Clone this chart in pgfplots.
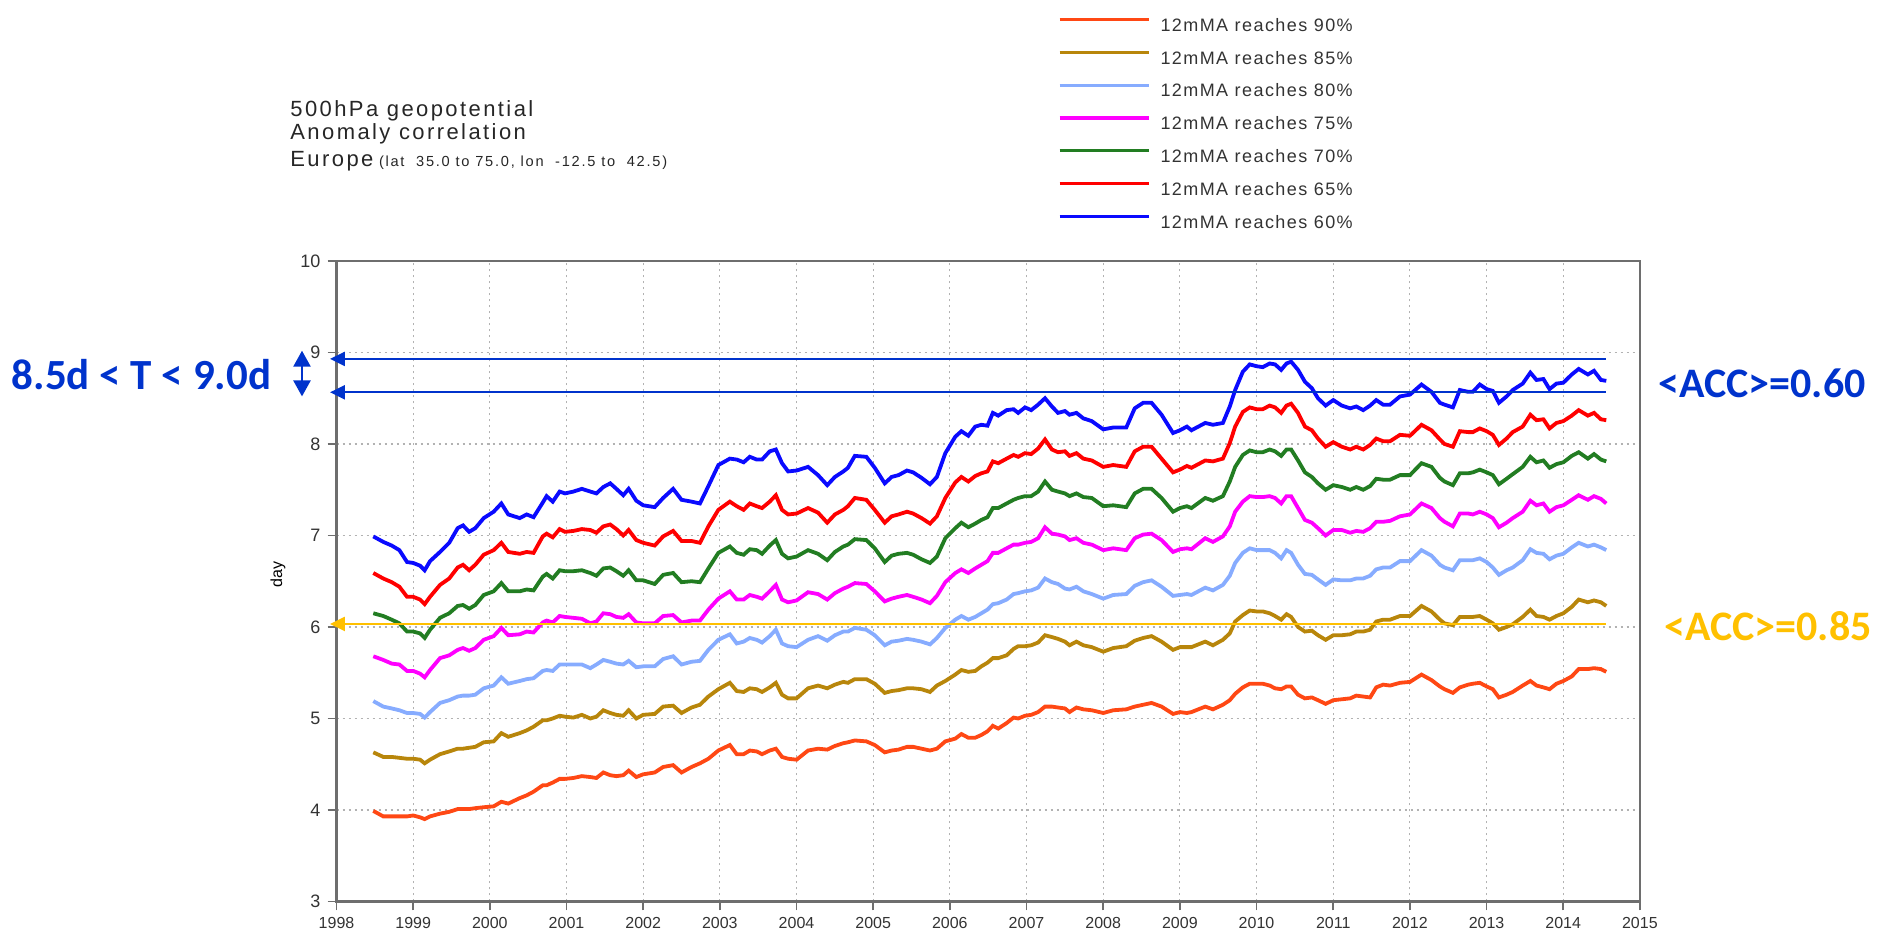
\documentclass[border=0pt]{standalone}
\usepackage{pgfplots}
\pgfplotsset{compat=1.18}
\usepackage{pgfplotstable}
\usepackage{fontspec}
\setmainfont{Liberation Sans}
\newfontfamily\calibri{Carlito}
\usetikzlibrary{arrows.meta}

\definecolor{c90}{RGB}{255,72,20}
\definecolor{c85}{RGB}{184,134,11}
\definecolor{c80}{RGB}{135,172,255}
\definecolor{c75}{RGB}{255,0,255}
\definecolor{c70}{RGB}{34,125,34}
\definecolor{c65}{RGB}{255,0,0}
\definecolor{c60}{RGB}{10,10,255}
\definecolor{annblue}{RGB}{0,51,204}
\definecolor{annorange}{RGB}{255,192,0}
\definecolor{axisgray}{RGB}{110,110,110}

\pgfplotstableread{
year a90 a85 a80 a75 a70 a65 a60
1998.48 3.99 4.63 5.19 5.68 6.15 6.59 6.99
1998.61 3.93 4.58 5.13 5.64 6.12 6.53 6.93
1998.72 3.93 4.58 5.11 5.60 6.08 6.49 6.89
1998.82 3.93 4.57 5.09 5.59 6.04 6.44 6.84
1998.92 3.93 4.56 5.06 5.52 5.95 6.33 6.71
1999.00 3.94 4.56 5.06 5.52 5.95 6.33 6.70
1999.09 3.92 4.55 5.05 5.49 5.93 6.30 6.67
1999.15 3.90 4.51 5.01 5.45 5.88 6.25 6.62
1999.22 3.93 4.55 5.07 5.53 5.97 6.33 6.72
1999.35 3.96 4.61 5.17 5.66 6.10 6.46 6.82
1999.47 3.98 4.64 5.20 5.69 6.15 6.53 6.92
1999.58 4.01 4.67 5.24 5.75 6.23 6.65 7.08
1999.65 4.01 4.67 5.25 5.77 6.24 6.68 7.11
1999.73 4.01 4.68 5.25 5.74 6.20 6.62 7.04
1999.81 4.02 4.69 5.26 5.77 6.24 6.68 7.08
1999.92 4.03 4.74 5.33 5.86 6.35 6.79 7.19
2000.05 4.04 4.75 5.36 5.90 6.39 6.84 7.26
2000.15 4.09 4.84 5.45 5.99 6.48 6.92 7.35
2000.24 4.07 4.80 5.38 5.91 6.39 6.82 7.23
2000.39 4.13 4.84 5.41 5.92 6.39 6.80 7.19
2000.48 4.16 4.87 5.43 5.95 6.41 6.82 7.23
2000.57 4.20 4.91 5.44 5.94 6.40 6.81 7.20
2000.69 4.27 4.98 5.52 6.05 6.55 6.99 7.36
2000.74 4.27 4.98 5.53 6.07 6.58 7.02 7.43
2000.82 4.30 5.00 5.52 6.05 6.53 6.98 7.37
2000.91 4.34 5.03 5.59 6.12 6.62 7.07 7.48
2000.98 4.34 5.02 5.59 6.11 6.61 7.04 7.46
2001.09 4.35 5.01 5.59 6.10 6.61 7.05 7.48
2001.20 4.37 5.04 5.59 6.09 6.62 7.07 7.51
2001.31 4.36 5.00 5.55 6.04 6.59 7.06 7.48
2001.39 4.35 5.02 5.59 6.06 6.56 7.03 7.46
2001.48 4.41 5.09 5.64 6.15 6.64 7.10 7.53
2001.57 4.38 5.06 5.62 6.14 6.65 7.12 7.57
2001.65 4.37 5.04 5.60 6.11 6.61 7.07 7.51
2001.74 4.38 5.03 5.59 6.10 6.56 7.00 7.44
2001.81 4.43 5.09 5.63 6.14 6.62 7.06 7.51
2001.91 4.36 5.00 5.56 6.05 6.51 6.95 7.38
2002.00 4.39 5.04 5.57 6.04 6.51 6.92 7.33
2002.15 4.41 5.05 5.57 6.04 6.47 6.89 7.31
2002.26 4.47 5.13 5.65 6.12 6.57 6.99 7.41
2002.39 4.49 5.14 5.68 6.13 6.59 7.05 7.51
2002.50 4.41 5.06 5.59 6.05 6.49 6.94 7.39
2002.63 4.47 5.12 5.62 6.07 6.50 6.94 7.37
2002.74 4.51 5.15 5.63 6.07 6.49 6.92 7.35
2002.85 4.56 5.24 5.75 6.19 6.64 7.10 7.54
2002.98 4.65 5.32 5.86 6.31 6.81 7.28 7.77
2003.13 4.71 5.39 5.92 6.39 6.88 7.37 7.84
2003.22 4.61 5.30 5.82 6.30 6.81 7.32 7.83
2003.31 4.61 5.29 5.84 6.30 6.79 7.28 7.80
2003.39 4.65 5.33 5.88 6.35 6.85 7.35 7.86
2003.48 4.64 5.32 5.86 6.33 6.84 7.32 7.83
2003.55 4.61 5.29 5.83 6.31 6.80 7.30 7.83
2003.65 4.65 5.34 5.90 6.39 6.89 7.37 7.92
2003.73 4.67 5.39 5.97 6.46 6.95 7.44 7.94
2003.81 4.58 5.26 5.82 6.30 6.80 7.28 7.79
2003.89 4.56 5.22 5.79 6.27 6.75 7.23 7.70
2004.00 4.55 5.22 5.78 6.29 6.77 7.24 7.71
2004.15 4.65 5.33 5.86 6.38 6.84 7.30 7.75
2004.28 4.67 5.36 5.90 6.36 6.80 7.25 7.66
2004.40 4.66 5.33 5.85 6.30 6.73 7.14 7.55
2004.50 4.70 5.37 5.91 6.37 6.82 7.23 7.64
2004.61 4.73 5.40 5.95 6.42 6.88 7.28 7.70
2004.67 4.74 5.39 5.95 6.44 6.90 7.32 7.74
2004.76 4.76 5.43 5.99 6.48 6.96 7.41 7.87
2004.91 4.75 5.43 5.97 6.47 6.95 7.39 7.86
2005.02 4.71 5.38 5.91 6.39 6.86 7.28 7.74
2005.15 4.63 5.28 5.80 6.28 6.71 7.14 7.57
2005.24 4.65 5.30 5.84 6.31 6.78 7.21 7.64
2005.33 4.66 5.31 5.85 6.33 6.80 7.23 7.66
2005.44 4.69 5.33 5.87 6.35 6.81 7.26 7.71
2005.52 4.69 5.33 5.86 6.33 6.79 7.24 7.69
2005.63 4.67 5.32 5.84 6.30 6.74 7.19 7.63
2005.74 4.65 5.29 5.81 6.26 6.70 7.13 7.56
2005.83 4.67 5.36 5.88 6.34 6.77 7.21 7.64
2005.94 4.75 5.41 5.99 6.49 6.97 7.41 7.90
2006.07 4.78 5.48 6.08 6.59 7.08 7.58 8.08
2006.15 4.83 5.53 6.12 6.63 7.14 7.64 8.14
2006.24 4.79 5.51 6.08 6.59 7.09 7.59 8.09
2006.33 4.79 5.52 6.11 6.64 7.13 7.65 8.19
2006.41 4.82 5.57 6.15 6.68 7.17 7.68 8.21
2006.49 4.86 5.61 6.19 6.72 7.20 7.70 8.20
2006.56 4.92 5.66 6.25 6.81 7.30 7.81 8.34
2006.63 4.89 5.66 6.26 6.81 7.30 7.79 8.31
2006.74 4.95 5.69 6.30 6.86 7.35 7.84 8.37
2006.83 5.01 5.76 6.36 6.90 7.39 7.88 8.38
2006.89 5.00 5.79 6.37 6.90 7.41 7.86 8.34
2006.98 5.03 5.79 6.39 6.92 7.43 7.90 8.40
2007.06 5.04 5.80 6.40 6.93 7.43 7.89 8.37
2007.15 5.07 5.83 6.43 6.97 7.48 7.95 8.43
2007.24 5.13 5.91 6.53 7.09 7.59 8.05 8.50
2007.33 5.13 5.89 6.49 7.02 7.50 7.94 8.41
2007.41 5.12 5.87 6.47 7.01 7.48 7.91 8.34
2007.50 5.11 5.84 6.42 6.99 7.46 7.92 8.36
2007.56 5.07 5.80 6.41 6.95 7.43 7.87 8.32
2007.65 5.12 5.84 6.44 6.97 7.46 7.90 8.34
2007.74 5.10 5.80 6.39 6.92 7.42 7.84 8.28
2007.85 5.09 5.78 6.36 6.90 7.41 7.82 8.25
2008.00 5.06 5.73 6.31 6.84 7.32 7.75 8.16
2008.13 5.09 5.77 6.35 6.86 7.33 7.77 8.18
2008.30 5.10 5.79 6.36 6.84 7.31 7.75 8.18
2008.41 5.13 5.85 6.45 6.97 7.46 7.92 8.39
2008.52 5.15 5.88 6.49 7.01 7.51 7.97 8.45
2008.63 5.17 5.90 6.51 7.02 7.51 7.97 8.45
2008.76 5.13 5.84 6.44 6.95 7.41 7.84 8.32
2008.91 5.05 5.75 6.34 6.82 7.26 7.69 8.12
2009.00 5.07 5.78 6.35 6.85 7.30 7.72 8.15
2009.09 5.06 5.78 6.36 6.86 7.32 7.76 8.19
2009.15 5.07 5.78 6.35 6.85 7.30 7.74 8.15
2009.33 5.13 5.84 6.43 6.97 7.41 7.82 8.23
2009.43 5.10 5.80 6.40 6.93 7.38 7.81 8.21
2009.56 5.15 5.86 6.46 6.99 7.43 7.84 8.23
2009.65 5.20 5.93 6.56 7.10 7.59 8.01 8.41
2009.72 5.27 6.06 6.70 7.26 7.75 8.19 8.59
2009.82 5.34 6.13 6.81 7.37 7.88 8.35 8.79
2009.91 5.38 6.18 6.86 7.43 7.93 8.40 8.87
2010.00 5.38 6.17 6.84 7.42 7.91 8.38 8.85
2010.08 5.38 6.17 6.84 7.42 7.91 8.38 8.84
2010.17 5.36 6.15 6.84 7.43 7.94 8.42 8.88
2010.24 5.33 6.12 6.81 7.41 7.92 8.40 8.87
2010.32 5.32 6.08 6.75 7.35 7.87 8.34 8.81
2010.39 5.35 6.14 6.84 7.43 7.94 8.42 8.88
2010.45 5.35 6.11 6.81 7.43 7.94 8.44 8.90
2010.54 5.26 6.00 6.68 7.30 7.82 8.34 8.81
2010.63 5.22 5.95 6.58 7.17 7.69 8.19 8.68
2010.72 5.23 5.96 6.57 7.14 7.64 8.15 8.61
2010.80 5.20 5.91 6.52 7.08 7.57 8.06 8.50
2010.90 5.16 5.86 6.46 7.00 7.50 7.97 8.42
2011.00 5.20 5.91 6.52 7.06 7.55 8.02 8.48
2011.11 5.21 5.91 6.51 7.06 7.53 7.97 8.42
2011.22 5.22 5.92 6.51 7.03 7.50 7.94 8.39
2011.30 5.25 5.95 6.53 7.05 7.53 7.97 8.41
2011.39 5.24 5.95 6.53 7.04 7.50 7.94 8.37
2011.48 5.23 5.97 6.56 7.08 7.54 7.99 8.42
2011.56 5.34 6.06 6.63 7.15 7.62 8.06 8.48
2011.65 5.37 6.08 6.65 7.15 7.61 8.03 8.43
2011.74 5.36 6.08 6.65 7.16 7.61 8.03 8.43
2011.87 5.39 6.12 6.72 7.21 7.66 8.10 8.52
2012.00 5.40 6.12 6.72 7.23 7.66 8.09 8.54
2012.15 5.48 6.23 6.84 7.35 7.79 8.21 8.65
2012.28 5.42 6.17 6.78 7.30 7.75 8.15 8.57
2012.39 5.35 6.08 6.68 7.19 7.63 8.05 8.45
2012.45 5.32 6.04 6.65 7.15 7.59 8.00 8.43
2012.56 5.28 6.02 6.62 7.10 7.55 7.97 8.40
2012.65 5.34 6.11 6.73 7.24 7.68 8.14 8.59
2012.76 5.37 6.11 6.73 7.24 7.68 8.13 8.57
2012.82 5.38 6.11 6.73 7.23 7.69 8.13 8.57
2012.91 5.39 6.12 6.75 7.26 7.72 8.17 8.65
2013.00 5.35 6.08 6.71 7.23 7.69 8.14 8.60
2013.08 5.32 6.04 6.65 7.19 7.66 8.10 8.58
2013.16 5.23 5.97 6.57 7.09 7.56 7.99 8.45
2013.26 5.26 6.00 6.62 7.14 7.62 8.06 8.52
2013.34 5.29 6.03 6.65 7.19 7.67 8.13 8.59
2013.47 5.36 6.11 6.73 7.26 7.75 8.19 8.66
2013.57 5.41 6.19 6.85 7.38 7.86 8.32 8.78
2013.65 5.36 6.12 6.81 7.33 7.80 8.26 8.70
2013.74 5.34 6.11 6.80 7.35 7.82 8.27 8.71
2013.82 5.32 6.08 6.74 7.26 7.74 8.17 8.60
2013.91 5.38 6.12 6.78 7.31 7.78 8.23 8.66
2014.00 5.41 6.15 6.80 7.33 7.80 8.25 8.67
2014.11 5.46 6.22 6.87 7.39 7.87 8.31 8.76
2014.20 5.54 6.30 6.92 7.44 7.91 8.37 8.82
2014.32 5.54 6.27 6.88 7.39 7.84 8.31 8.76
2014.40 5.55 6.29 6.90 7.43 7.89 8.34 8.80
2014.49 5.54 6.27 6.87 7.40 7.83 8.27 8.70
2014.56 5.51 6.23 6.84 7.35 7.81 8.26 8.69
}\acctable

\begin{document}
\begin{tikzpicture}
\useasboundingbox (0pt,0pt) rectangle (938.5pt,464.5pt);
\begin{axis}[
  at={(168.25pt,13.75pt)}, anchor=south west,
  width=651.75pt, height=320.25pt, scale only axis,
  xmin=1998, xmax=2015, ymin=3, ymax=10,
  xtick={1998,...,2015}, ytick={3,...,10},
  /pgf/number format/1000 sep={},
  /pgf/number format/assume math mode=true,
  tick align=outside, tick pos=left,
  major tick length=4.5pt,
  grid=major,
  grid style={black!30, line width=0.6pt, dash pattern=on 1.2pt off 1.8pt},
  axis line style={axisgray, line width=1.1pt},
  tick style={axisgray, line width=0.8pt},
  xticklabel style={font=\fontsize{8}{9}\selectfont, text=black!80},
  yticklabel style={font=\fontsize{9}{10}\selectfont, text=black!80},
  ylabel={day},
  ylabel style={font=\fontsize{8}{9}\selectfont, at={(axis description cs:-0.0449,0.51)}, anchor=center},
  clip=false,
  legend cell align=left,
  legend style={
    at={(axis description cs:0.5535,1.3800)}, anchor=north west,
    draw=none, fill=none, inner sep=0pt, outer sep=0pt,
    font=\fontsize{9}{10}\selectfont\addfontfeature{LetterSpace=8},
    row sep=8.07pt,
    nodes={inner sep=0pt, text height=6.5pt, text depth=1.5pt, text=black!80},
  },
  legend image code/.code={\draw[#1, line width=1.6pt] (0pt,3.4pt) -- (44.5pt,3.4pt); \path (49.5pt,3.4pt);},
]
\addplot[c90, line width=1.9pt] table[x=year, y=a90] {\acctable};
\addlegendentry{12mMA reaches 90\%}
\addplot[c85, line width=1.9pt] table[x=year, y=a85] {\acctable};
\addlegendentry{12mMA reaches 85\%}
\addplot[c80, line width=1.9pt] table[x=year, y=a80] {\acctable};
\addlegendentry{12mMA reaches 80\%}
\addplot[c75, line width=1.9pt] table[x=year, y=a75] {\acctable};
\addlegendentry{12mMA reaches 75\%}
\addplot[c70, line width=1.9pt] table[x=year, y=a70] {\acctable};
\addlegendentry{12mMA reaches 70\%}
\addplot[c65, line width=1.9pt] table[x=year, y=a65] {\acctable};
\addlegendentry{12mMA reaches 65\%}
\addplot[c60, line width=1.9pt] table[x=year, y=a60] {\acctable};
\addlegendentry{12mMA reaches 60\%}

% annotation lines
\addplot[forget plot, annblue, line width=1.2pt, {Triangle[length=7.5pt,width=7pt]}-] coordinates {(1997.915,8.93) (2014.55,8.93)};
\addplot[forget plot, annblue, line width=1.2pt, {Triangle[length=7.5pt,width=7pt]}-] coordinates {(1997.915,8.565) (2014.55,8.565)};
\addplot[forget plot, annorange, line width=1.2pt, {Triangle[length=7.5pt,width=7pt]}-] coordinates {(1997.915,6.033) (2014.55,6.033)};
\addplot[forget plot, annblue, line width=1.2pt, {Triangle[length=8pt,width=8.5pt]}-{Triangle[length=8pt,width=8.5pt]}] coordinates {(1997.55,8.52) (1997.55,9.02)};
\end{axis}

% title
\node[anchor=base west, inner sep=0pt, font=\fontsize{11}{13}\selectfont\addfontfeature{LetterSpace=11}, text=black!85] at (145pt,406.15pt) {500hPa geopotential};
\node[anchor=base west, inner sep=0pt, font=\fontsize{11}{13}\selectfont\addfontfeature{LetterSpace=11}, text=black!85] at (145pt,394.75pt) {Anomaly correlation};
\node[anchor=base west, inner sep=0pt, text=black!85] at (145pt,381.25pt) {{\fontsize{11}{13}\selectfont\addfontfeature{LetterSpace=11}Europe} {\fontsize{7.3}{8}\selectfont\addfontfeature{LetterSpace=12}(lat\ \ 35.0 to 75.0, lon\ \ -12.5 to\ \ 42.5)}};

% annotations
\node[inner sep=0pt, font=\calibri\bfseries\fontsize{21.5}{24}\selectfont, text=annblue] at (70.75pt,277pt) {8.5d < T < 9.0d};
\node[inner sep=0pt, font=\calibri\bfseries\fontsize{21}{24}\selectfont, text=annblue] at (881pt,273pt) {<ACC>=0.60};
\node[inner sep=0pt, font=\calibri\bfseries\fontsize{21}{24}\selectfont, text=annorange] at (884pt,151.5pt) {<ACC>=0.85};
\end{tikzpicture}
\end{document}
